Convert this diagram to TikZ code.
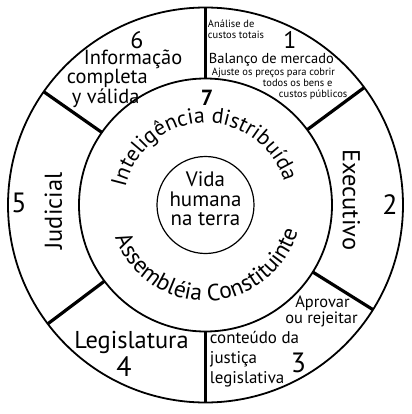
\documentclass[tikz,border=0pt]{standalone}
\usepackage{fontspec}
\setmainfont{PT Sans}
\usetikzlibrary{decorations.text}
\newcommand\fsz[2]{\fontsize{#1}{#2}\selectfont}
\newcommand\arcfontA{\fontsize{22}{22}\selectfont}
\newcommand\arcfontB{\fontsize{23.5}{23.5}\selectfont}
\begin{document}
\begin{tikzpicture}[x=1bp,y=1bp,
  ring/.style={line width=1.8bp},
  divider/.style={line width=3.2bp},
  txt/.style={inner sep=0pt, outer sep=0pt},
  tiny/.style={txt, anchor=base west, font=\fsz{10.5}{11}},
  mid/.style={txt, anchor=base west, font=\fsz{20.5}{20.5}},
  big/.style={txt, font=\fsz{24.5}{24.5}},
  smallmid/.style={txt, font=\fsz{16.5}{16.5}},
  numa/.style={txt, font=\fsz{24}{24}},
  numb/.style={txt, font=\fsz{28}{28}}]
\fill[white] (-205.5,-209) rectangle (206.5,205);
\useasboundingbox (-205.5,-209) rectangle (206.5,205);
% rings
\draw[ring] (0,0) circle[radius=197.5];
\draw[ring] (0,0) circle[radius=126.5];
\draw[line width=1.2bp] (0,0) circle[radius=48.5];
\foreach \a in {90,36.5,-32,-90,217,145}
  \draw[divider] (\a:126.5) -- (\a:197.5);
% sector 1
\node[tiny] (a1) at (2.5,178) {Análise de};
\node[tiny] (a2) at (2.5,167) {custos totais};
\node[numa] (n1) at (84.5,165) {1};
\node[txt, anchor=base west, font=\fsz{14.5}{14.5}] (bal) at (3.5,142) {Balanço de mercado};
\node[tiny] (aj1) at (6.5,130) {Ajuste os preços para cobrir};
\node[tiny] (aj2) at (57.5,119) {todos os bens e};
\node[tiny] (aj3) at (73.5,108) {custos públicos};
% sector 2
\node[big, anchor=base, rotate=-90] (exe) at (137.5,5) {Executivo};
\node[numb] (n2) at (184.5,0) {2};
% sector 3
\node[smallmid, anchor=base] (apr) at (117,-102) {Aprovar};
\node[smallmid, anchor=base] (rej) at (116,-118) {ou rejeitar};
\node[txt, anchor=base west, font=\fsz{17}{17}] (cont) at (4.5,-138) {conteúdo da};
\node[txt, anchor=base west, font=\fsz{17}{17}] (jus) at (4.5,-158) {justiça};
\node[txt, anchor=base west, font=\fsz{17}{17}] (legv) at (4.5,-178) {legislativa};
\node[numb] (n3) at (93,-158) {3};
% sector 4
\node[big, anchor=base] (legis) at (-74,-143) {Legislatura};
\node[numb] (n4) at (-81.5,-161.5) {4};
% sector 5
\node[big, anchor=base, rotate=90] (jud) at (-143.5,-6) {Judicial};
\node[numb] (n5) at (-186.5,2) {5};
% sector 6
\node[numa] (n6) at (-68.5,165) {6};
\node[mid] (inf) at (-121.5,141) {Informação};
\node[mid] (comp) at (-138.5,122) {completa};
\node[mid] (val) at (-133.5,102) {y válida};
% ring 7
\node[txt, font=\bfseries\fsz{22}{22}] (n7) at (1.5,107.5) {7};
\path[decorate, decoration={text along path, text={|\arcfontA|Inteligência distribuída}, text align=center}]
  (182:82) arc[start angle=182, end angle=2, radius=82];
\path[decorate, decoration={text along path, text={|\arcfontB|Assembléia Constituinte}, text align=center}]
  (182:96) arc[start angle=182, end angle=362, radius=96];
% centre
\node[txt, anchor=base, font=\fsz{21}{21}] (v1) at (0,18.3) {Vida};
\node[txt, anchor=base, font=\fsz{21}{21}] (v2) at (0,-1) {humana};
\node[txt, anchor=base, font=\fsz{21}{21}] (v3) at (0,-20) {na terra};
\end{tikzpicture}
\end{document}
